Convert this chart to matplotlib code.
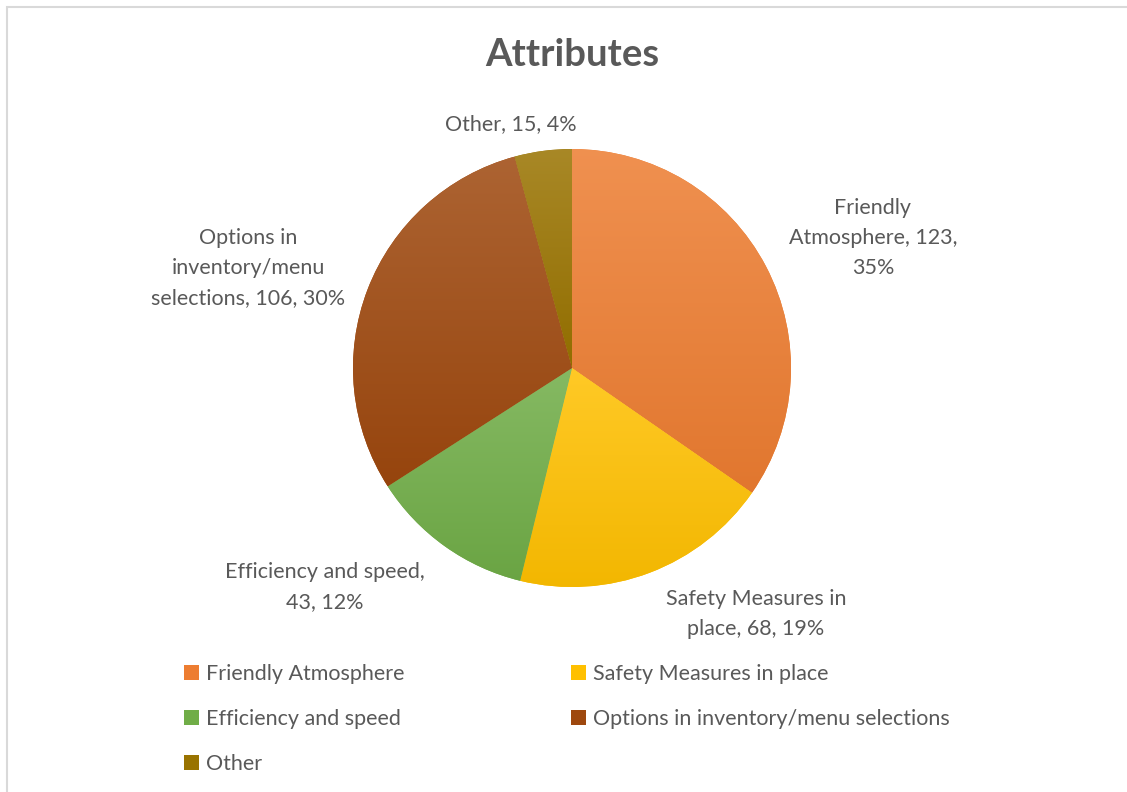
import textwrap
import numpy as np
import matplotlib
matplotlib.use("Agg")
import matplotlib.pyplot as plt
from matplotlib.colors import to_rgb
from matplotlib.patches import Rectangle

categories = ["Friendly Atmosphere", "Safety Measures in place", "Efficiency and speed",
              "Options in inventory/menu selections", "Other"]
values = [123, 68, 43, 106, 15]
base_colors = ["#ED7D31", "#FFC000", "#70AD47", "#9E480E", "#997300"]

# layout bits (Excel style label wrapping and placement, radius units)
wrap_widths = [16, 18, 21, 20, 20]
label_pos = [(1.374, 0.594), (0.840, -1.123), (-1.128, -1.0), (-1.479, 0.457), (-0.279, 1.114)]

plt.rcParams['font.family'] = ['Lato', 'DejaVu Sans']
txt_col = "#595959"

W, H = 1127, 792
fig = plt.figure(figsize=(W / 100, H / 100), dpi=100)

# light grey chart border (only left / top visible in the crop)
fig.patches.append(Rectangle((7 / W, -0.05), 1.2, (H - 7) / H + 0.05, transform=fig.transFigure,
                             fill=False, edgecolor="#D9D9D9", linewidth=1.5))

cx, cy, r = 572, 368, 219
ax = fig.add_axes([(cx - r) / W, (H - cy - r) / H, 2 * r / W, 2 * r / H])

wedges, _ = ax.pie(values, startangle=90, counterclock=False, radius=1,
                   colors=base_colors, wedgeprops=dict(linewidth=0))


def mix(c, other, t):
    c = np.array(to_rgb(c))
    return c + (np.array(other) - c) * t


for w, col in zip(wedges, base_colors):
    verts = w.get_path().vertices
    y0, y1 = verts[:, 1].min(), verts[:, 1].max()
    top = mix(col, (1, 1, 1), 0.15)
    bot = mix(col, (0, 0, 0), 0.05)
    t = np.linspace(0, 1, 256)[:, None, None]
    grad = top[None, None, :] * (1 - t) + bot[None, None, :] * t
    im = ax.imshow(grad, extent=[-1.05, 1.05, y0, y1], origin='upper', aspect='auto',
                   zorder=2, interpolation='bilinear')
    im.set_clip_path(w)

ax.set_xlim(-1, 1)
ax.set_ylim(-1, 1)
ax.set_aspect('equal')
ax.axis('off')

total = sum(values)
for cat, v, ww, (lx, ly) in zip(categories, values, wrap_widths, label_pos):
    pct = round(100 * v / total)
    s = textwrap.fill(f"{cat}, {v}, {pct}%", ww)
    ax.text(lx, ly, s, ha='center', va='center', multialignment='center',
            fontsize=15.5, color=txt_col, linespacing=1.62, clip_on=False)

fig.text(572 / W, 1 - 55 / H, "Attributes", ha='center', va='center',
         fontsize=27.5, fontweight='bold', color=txt_col)

# legend, row-major order like Excel
order = [0, 2, 4, 1, 3]
handles = [wedges[i] for i in order]
labels = [categories[i] for i in order]
leg = fig.legend(handles, labels, ncol=2, frameon=False, loc='upper left',
                 bbox_to_anchor=(165 / W, 1 - 645 / H), fontsize=15.5,
                 handlelength=0.7, handleheight=0.7, handletextpad=0.3,
                 labelspacing=1.15, columnspacing=7.75)
for t in leg.get_texts():
    t.set_color(txt_col)

fig.savefig("out.png", dpi=100, facecolor="white")
